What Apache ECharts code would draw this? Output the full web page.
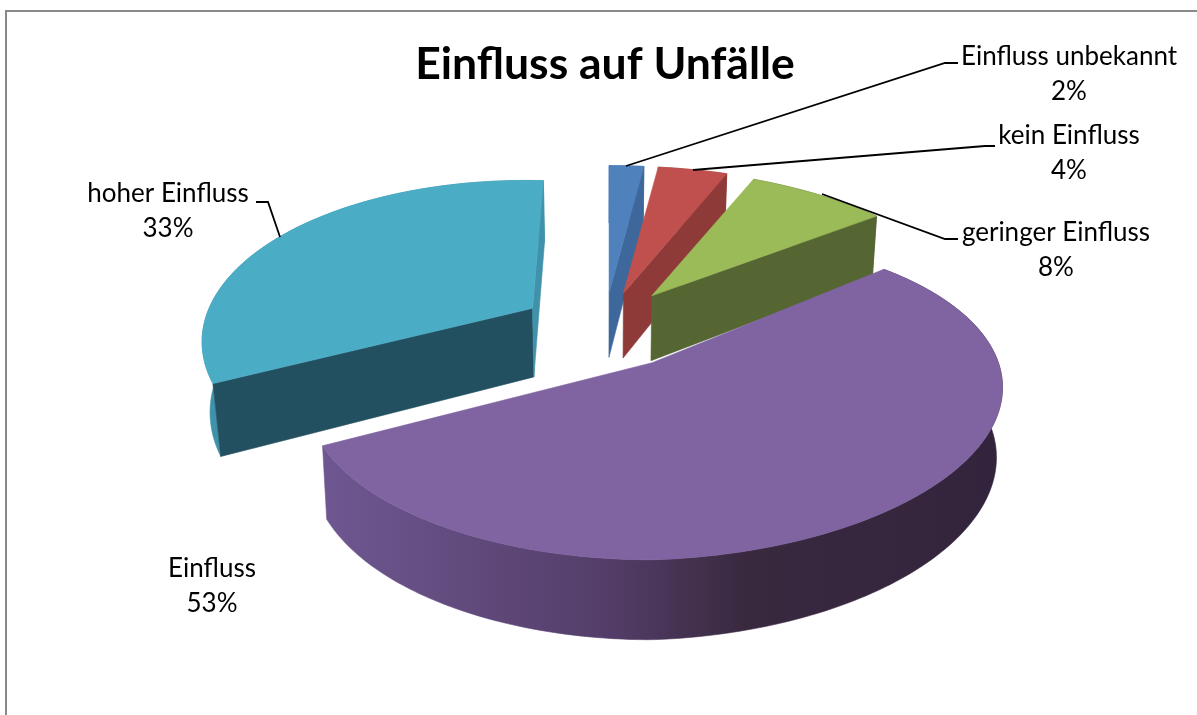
<!DOCTYPE html>
<html>
<head>
<meta charset="utf-8">
<style>html,body{margin:0;padding:0;background:#fff;overflow:hidden}#c{width:1197px;height:715px}</style>
<script src="https://cdn.jsdelivr.net/npm/echarts@6/dist/echarts.min.js"></script>
</head>
<body>
<div id="c"></div>
<script>
// ---- data ----
const categories = ['Einfluss unbekannt', 'kein Einfluss', 'geringer Einfluss', 'Einfluss', 'hoher Einfluss'];
const shares = [2, 4, 8, 53, 33];
const chartTitle = 'Einfluss auf Unfälle';

// ---- styling / layout (kept apart from the data) ----
const explosion = [65, 62, 71, 75, 90];
const nudgeX = [-5, -2, 0, 0, 0];
const nudgeY = [1, -1, 0, 0, 6];
const scaleX = [1, 1, 0.985, 1, 0.95];
const scaleY = [1, 1, 1, 1, 1.005];
const stretchRight = [1, 1, 1, 1.015, 1];
const shearRight = [0, 0, -0.03, 0.03, 0];
const shearLeft = [0, 0, 0, 0, 0.025];
const lean = [0, 0, 0, 0, 0.085];
const extraDepth = [0, 0, 0, 0, 3];
const depthShrink = [0.985, 0.985, 0.985, 0.985, 0.98];
const topColors = ['#4F81BD', '#C0504D', '#9BBB59', '#8064A2', '#4BACC6'];
const wallColors = ['#3E689B', '#8E3A38', '#556632', '#5E4A78', '#235060'];
const endWallColors = ['#3E689B', '#8E3A38', '#556632', '#5E4A78', '#3F92A9'];
const rimColors = ['#3E689B', '#8E3A38', '#556632', null, '#3F92A9'];
const purpleRimStops = [[0, '#6E5790'], [0.42, '#533D68'], [0.62, '#39293F'], [1, '#33243D']];
const labelAnchors = [[1069, 56.5], [1069, 135.5], [1056, 233], [212, 568.5], [168, 194]];
const leaders = [
  [[626, 166], [945, 63], [958, 63]],
  [[693, 170], [985, 146], [995, 146]],
  [[822, 194], [945, 239], [958, 239]],
  null,
  [[280, 237], [268, 202], [256, 202]]
];
const PIE = {cx: 610, cy: 328, k: 337, a: 154.5, p: 0.216, ex: 1, ey: 0.56};
const DEPTH = {vx: 600, h0: 65, m: 0.057, y0: 298};

const total = shares.reduce((s, v) => s + v, 0);
let running = 0;
const seriesData = shares.map((v, i) => {
  const from = running / total * Math.PI * 2;
  running += v;
  const to = running / total * Math.PI * 2;
  return {name: categories[i], value: [v, from, to]};
});

function apexOf(i, from, to) {
  const m = (from + to) / 2, e = explosion[i];
  return [PIE.cx + PIE.ex * e * Math.sin(m) + nudgeX[i],
          PIE.cy - PIE.ey * e * Math.cos(m) + nudgeY[i]];
}
function rimPoint(i, apex, t) {
  const d = 1 + PIE.p * Math.cos(t);
  const X = PIE.k * Math.sin(t) / d;
  const Z = scaleY[i] * PIE.a * Math.cos(t) / d;
  const sx = scaleX[i] * (X > 0 ? stretchRight[i] : 1);
  const up = X > 0 ? shearRight[i] * X : shearLeft[i] * -X;
  const dy = -Z - up;
  return [apex[0] + sx * X - lean[i] * dy, apex[1] + dy];
}
function down(pt, i) {
  return [DEPTH.vx + (pt[0] - DEPTH.vx) * depthShrink[i],
          pt[1] + DEPTH.h0 + extraDepth[i] + DEPTH.m * (pt[1] - DEPTH.y0)];
}
function arc(i, apex, from, to) {
  const n = Math.max(4, Math.ceil((to - from) / 0.02)), out = [];
  for (let j = 0; j <= n; j++) out.push(rimPoint(i, apex, from + (to - from) * j / n));
  return out;
}
function poly(points, fill) {
  return {type: 'polygon', shape: {points: points},
    style: {fill: fill, stroke: fill, lineWidth: 0.6}};
}

function renderSlice(params, api) {
  const i = params.dataIndex;
  const from = api.value(1), to = api.value(2);
  const apex = apexOf(i, from, to);
  const rim = arc(i, apex, from, to);
  const rimDown = rim.map(p => down(p, i));
  const apexDown = down(apex, i);
  const children = [];

  let rimFill = rimColors[i];
  if (rimFill === null) {
    rimFill = new echarts.graphic.LinearGradient(329, 0, 1000, 0,
      purpleRimStops.map(st => ({offset: st[0], color: st[1]})), true);
  }
  children.push(poly(rim.concat(rimDown.slice().reverse()), rimFill));

  if (Math.sin(from) < -1e-6) {
    children.push(poly([apex, rim[0], rimDown[0], apexDown], wallColors[i]));
  }
  if (Math.sin(to) > -1e-6) {
    children.push(poly([apex, rim[rim.length - 1], rimDown[rimDown.length - 1], apexDown], endWallColors[i]));
  }
  children.push(poly([apex].concat(rim), topColors[i]));
  return {type: 'group', children: children};
}

const graphics = [{
  type: 'rect', z: 0, silent: true,
  shape: {x: 6, y: 11, width: 1300, height: 900},
  style: {fill: 'none', stroke: '#898989', lineWidth: 2}
}];
leaders.forEach(l => {
  if (l) graphics.push({
    type: 'polyline', z: 20, silent: true, shape: {points: l},
    style: {fill: 'none', stroke: '#000', lineWidth: 1.8}
  });
});
categories.forEach((c, i) => {
  graphics.push({
    type: 'text', z: 20, silent: true, x: labelAnchors[i][0], y: labelAnchors[i][1] - 17.5,
    style: {
      text: c + '\n' + shares[i] + '%', fill: '#000',
      font: '26px Lato', lineHeight: 35, align: 'center', verticalAlign: 'top'
    }
  });
});

const chart = echarts.init(document.getElementById('c'), null, {renderer: 'canvas'});
chart.setOption({
  animation: false,
  backgroundColor: '#fff',
  title: {
    text: chartTitle, left: 600, top: 37, textAlign: 'center',
    textStyle: {fontFamily: 'Lato', fontWeight: 'bold', fontSize: 44.5, color: '#000'}
  },
  graphic: graphics,
  series: [{
    type: 'custom',
    coordinateSystem: 'none',
    silent: true,
    renderItem: renderSlice,
    data: seriesData,
    encode: {value: 0}
  }]
});
</script>
</body>
</html>
